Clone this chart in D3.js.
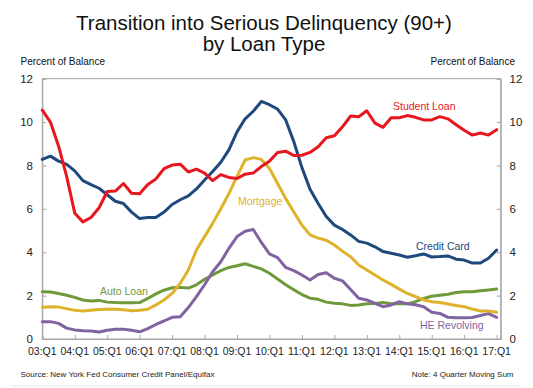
<!DOCTYPE html>
<html>
<head>
<meta charset="utf-8">
<script src="https://cdn.jsdelivr.net/npm/d3@7"></script>
<style>
  html, body { margin: 0; padding: 0; background: #fff; }
  svg { display: block; font-family: "Liberation Sans", Arial, sans-serif; }
</style>
</head>
<body>
<svg id="chart" width="533" height="388"></svg>
<script>
// ---- data (quarterly, 03:Q1 .. 17:Q1) ----
const tickLabels = ["03:Q1","04:Q1","05:Q1","06:Q1","07:Q1","08:Q1","09:Q1","10:Q1","11:Q1","12:Q1","13:Q1","14:Q1","15:Q1","16:Q1","17:Q1"];
const yTicks = [0, 2, 4, 6, 8, 10, 12];

const studentLoan = [10.55,10.0,8.9,7.5,5.8,5.4,5.6,6.05,6.8,6.82,7.17,6.72,6.7,7.12,7.38,7.85,8.02,8.06,7.7,7.83,7.65,7.3,7.58,7.45,7.4,7.6,7.65,7.95,8.2,8.6,8.66,8.46,8.47,8.6,8.86,9.28,9.37,9.78,10.28,10.25,10.52,9.95,9.76,10.2,10.2,10.3,10.22,10.1,10.1,10.25,10.15,9.88,9.62,9.4,9.5,9.4,9.65];
const creditCard = [8.28,8.43,8.2,8.05,7.75,7.3,7.12,6.95,6.65,6.35,6.25,5.85,5.55,5.6,5.6,5.85,6.2,6.42,6.6,6.92,7.33,7.72,8.15,8.72,9.55,10.15,10.5,10.95,10.8,10.6,10.1,9.1,7.9,6.9,6.25,5.65,5.25,5.05,4.8,4.5,4.42,4.25,4.03,3.95,3.87,3.77,3.84,3.92,3.78,3.8,3.83,3.68,3.64,3.5,3.5,3.72,4.1];
const mortgage = [1.46,1.49,1.47,1.4,1.32,1.29,1.33,1.36,1.37,1.37,1.35,1.3,1.33,1.37,1.57,1.8,2.1,2.57,3.18,4.1,4.72,5.33,6.0,6.7,7.5,8.25,8.36,8.28,7.86,7.17,6.48,5.85,5.25,4.8,4.65,4.55,4.33,4.05,3.79,3.41,3.18,2.95,2.72,2.52,2.3,2.1,1.95,1.8,1.72,1.68,1.61,1.54,1.49,1.38,1.29,1.29,1.23];
const autoLoan = [2.18,2.17,2.1,2.02,1.92,1.8,1.75,1.78,1.7,1.68,1.67,1.67,1.68,1.87,2.08,2.25,2.36,2.38,2.35,2.5,2.75,2.95,3.15,3.3,3.38,3.47,3.35,3.23,3.03,2.77,2.5,2.27,2.05,1.88,1.83,1.7,1.65,1.62,1.55,1.57,1.62,1.64,1.68,1.63,1.62,1.62,1.72,1.87,1.97,2.02,2.06,2.14,2.18,2.18,2.22,2.26,2.3];
const heRevolving = [0.8,0.8,0.72,0.5,0.42,0.38,0.37,0.32,0.4,0.45,0.45,0.4,0.33,0.48,0.67,0.83,1.0,1.03,1.45,1.95,2.5,3.1,3.56,4.18,4.72,4.97,5.05,4.45,3.92,3.75,3.3,3.15,2.95,2.72,2.97,3.05,2.8,2.68,2.28,1.88,1.8,1.64,1.49,1.57,1.72,1.62,1.58,1.49,1.23,1.18,1.0,0.98,0.98,0.99,1.08,1.17,1.0];

const seriesNames = ["Auto Loan","HE Revolving","Mortgage","Credit Card","Student Loan"];
const seriesValues = [autoLoan, heRevolving, mortgage, creditCard, studentLoan];

// ---- styles / layout ----
const colors = {
  "Student Loan": "#e8161e",
  "Credit Card": "#1f497d",
  "Mortgage": "#deb22a",
  "Auto Loan": "#6f9a3a",
  "HE Revolving": "#8064a2"
};
const labelPos = {
  "Student Loan": [393, 109.5],
  "Mortgage": [238, 205],
  "Credit Card": [416, 250],
  "Auto Loan": [100, 295],
  "HE Revolving": [420, 328.5]
};

const L = 42.3, R = 500.7, T = 78.7, B = 339;
const svg = d3.select("#chart");

const x = d3.scaleLinear().domain([0, 56.5]).range([L, R]);
const y = d3.scaleLinear().domain([0, 12]).range([B, T]);

// title
svg.append("text").attr("x", 264).attr("y", 30).attr("text-anchor", "middle")
  .attr("font-size", 20.5).attr("fill", "#111").text("Transition into Serious Delinquency (90+)");
svg.append("text").attr("x", 264).attr("y", 51).attr("text-anchor", "middle")
  .attr("font-size", 20.5).attr("fill", "#111").text("by Loan Type");

svg.append("text").attr("x", 20.5).attr("y", 65).attr("font-size", 10).attr("fill", "#111").text("Percent of Balance");
svg.append("text").attr("x", 515).attr("y", 65).attr("text-anchor", "end").attr("font-size", 10).attr("fill", "#111").text("Percent of Balance");

// plot frame
const axisColor = "#a6a6a6";
svg.append("rect").attr("x", L).attr("y", T).attr("width", R - L).attr("height", B - T)
  .attr("fill", "none").attr("stroke", axisColor).attr("stroke-width", 1);

// axes (ticks inside)
const gl = svg.append("g").attr("transform", `translate(${L},0)`)
  .call(d3.axisRight(y).tickValues(yTicks).tickSize(4).tickFormat(""));
const gr = svg.append("g").attr("transform", `translate(${R},0)`)
  .call(d3.axisLeft(y).tickValues(yTicks).tickSize(4).tickFormat(""));
const gb = svg.append("g").attr("transform", `translate(0,${B})`)
  .call(d3.axisTop(x).tickValues(d3.range(0, 57, 4)).tickSize(4).tickFormat(""));
[gl, gr, gb].forEach(g => {
  g.select(".domain").attr("stroke", axisColor);
  g.selectAll(".tick line").attr("stroke", axisColor);
});

// tick labels
svg.append("g").selectAll("text").data(yTicks).join("text")
  .attr("x", 33).attr("y", d => y(d) + 4.2).attr("text-anchor", "end")
  .attr("font-size", 11.5).attr("fill", "#222").text(d => d);
svg.append("g").selectAll("text").data(yTicks).join("text")
  .attr("x", 509.5).attr("y", d => y(d) + 4.2).attr("text-anchor", "start")
  .attr("font-size", 11.5).attr("fill", "#222").text(d => d);
svg.append("g").selectAll("text").data(tickLabels).join("text")
  .attr("x", (d, i) => x(i * 4)).attr("y", 354.5).attr("text-anchor", "middle")
  .attr("font-size", 10.5).attr("fill", "#222").text(d => d);

// lines
const line = d3.line().x((d, i) => x(i)).y(d => y(d));
svg.append("g").selectAll("path").data(seriesNames).join("path")
  .attr("d", (n, k) => line(seriesValues[k]))
  .attr("fill", "none").attr("stroke", n => colors[n])
  .attr("stroke-width", 3).attr("stroke-linejoin", "round").attr("stroke-linecap", "round");

// series labels
svg.append("g").selectAll("text").data(seriesNames).join("text")
  .attr("x", n => labelPos[n][0]).attr("y", n => labelPos[n][1])
  .attr("font-size", 10.5).attr("fill", n => colors[n]).text(n => n);

// footer
svg.append("text").attr("x", 20.5).attr("y", 377).attr("font-size", 8).attr("fill", "#222")
  .text("Source: New York Fed Consumer Credit Panel/Equifax");
svg.append("text").attr("x", 513.5).attr("y", 377).attr("text-anchor", "end").attr("font-size", 8).attr("fill", "#222")
  .text("Note: 4 Quarter Moving Sum");
svg.append("line").attr("x1", 12).attr("x2", 520).attr("y1", 386).attr("y2", 386)
  .attr("stroke", "#e6e6e6").attr("stroke-width", 1);
</script>
</body>
</html>
